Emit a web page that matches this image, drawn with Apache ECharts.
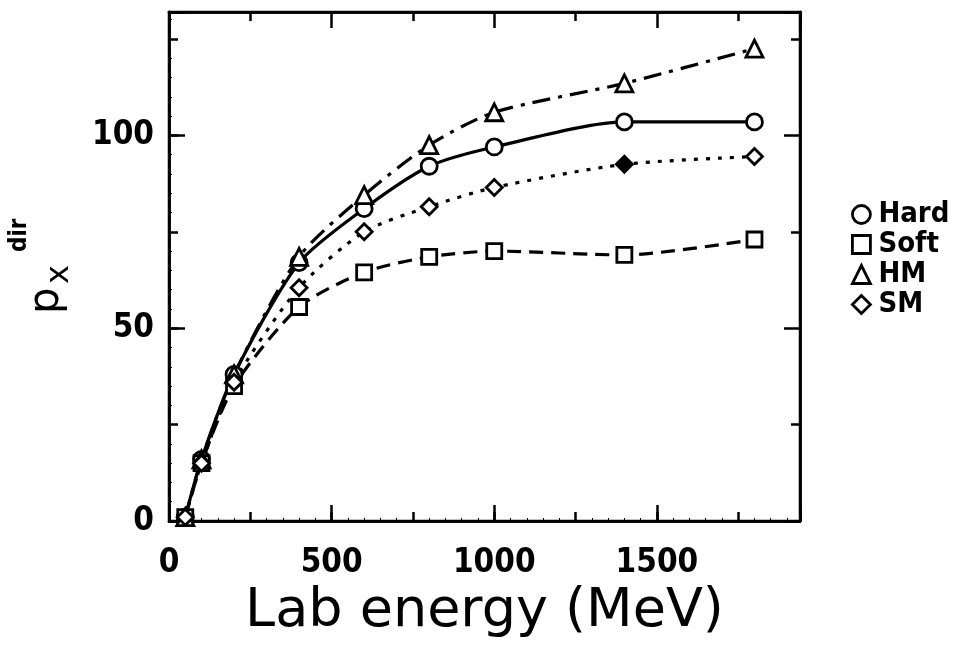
<!DOCTYPE html>
<html>
<head>
<meta charset="utf-8">
<script src="https://cdn.jsdelivr.net/npm/echarts@6/dist/echarts.min.js"></script>
<style>html,body{margin:0;padding:0;background:#fff;}#c{width:974px;height:651px;}</style>
</head>
<body>
<div id="c"></div>
<script>
// ---- data ----
const energies = [50, 100, 200, 400, 600, 800, 1000, 1400, 1800];
const hardValues = [1, 16, 38, 67, 81, 92, 97, 103.5, 103.5];
const softValues = [1, 15, 35, 55.5, 64.5, 68.5, 70, 69, 73];
const hmValues   = [1, 16, 38, 68.5, 84.5, 97.5, 106, 113.5, 122.5];
const smValues   = [1, 15, 36, 60.5, 75, 81.5, 86.5, 92.5, 94.5];
const seriesNames = ['Hard', 'Soft', 'HM', 'SM'];
const xTickLabels = ['0', '500', '1000', '1500'];
const yTickLabels = ['0', '50', '100'];
const xAxisTitle = 'Lab energy (MeV)';

const FONT = '"Liberation Sans Narrow", "DejaVu Sans Condensed", "Liberation Sans", sans-serif';
const BLACK = '#000';

function pairs(vals) { return energies.map((x, i) => [x, vals[i]]); }

const markerStyle = { color: '#fff', borderColor: BLACK, borderWidth: 2.8 };

function makeSeries(name, vals, symbol, dash, size, filledIdx) {
  const data = pairs(vals).map((p, i) => (i === filledIdx
    ? { value: p, itemStyle: { color: BLACK } } : p));
  return {
    name, type: 'line', data, symbol, symbolSize: size,
    xAxisIndex: 0, yAxisIndex: 0,
    smooth: 0.25,
    itemStyle: markerStyle,
    lineStyle: { color: BLACK, width: 3.2, type: dash },
    emphasis: { disabled: true },
    animation: false
  };
}

const tickLine = { color: BLACK, width: 2.5 };
function xAx(position, interval, len, labels) {
  return {
    type: 'value', position, min: 0, max: 1940, interval,
    axisLine: { show: true, onZero: false, lineStyle: tickLine },
    axisTick: { show: true, inside: true, length: len, lineStyle: tickLine },
    minorTick: { show: labels, splitNumber: 5, length: 3, lineStyle: { color: BLACK, width: 1 } },
    splitLine: { show: false },
    axisLabel: labels ? {
      show: true, interval: 0, margin: 26, color: BLACK,
      fontFamily: FONT, fontWeight: 'bold', fontSize: 33,
      formatter: v => (xTickLabels.includes(String(v)) ? String(v) : '')
    } : { show: false }
  };
}
function yAx(position, interval, len, labels) {
  return {
    type: 'value', position, min: 0, max: 132, interval,
    axisLine: { show: true, onZero: false, lineStyle: tickLine },
    axisTick: { show: true, inside: true, length: len, lineStyle: tickLine },
    minorTick: { show: labels, splitNumber: 5, length: 3, lineStyle: { color: BLACK, width: 1 } },
    splitLine: { show: false },
    axisLabel: labels ? {
      show: true, interval: 0, margin: 15, color: BLACK,
      fontFamily: FONT, fontWeight: 'bold', fontSize: 33,
      formatter: v => (yTickLabels.includes(String(v)) ? String(v) : '')
    } : { show: false }
  };
}

const xMain = xAx('bottom', 250, 9, true);
xMain.name = xAxisTitle;
xMain.nameLocation = 'middle';
xMain.nameGap = 64;
xMain.nameTextStyle = { fontFamily: '"DejaVu Sans", sans-serif', fontSize: 54, color: BLACK };

const option = {
  backgroundColor: '#fff',
  animation: false,
  grid: { left: 169, right: 174, top: 12, bottom: 130, show: true, borderColor: BLACK, borderWidth: 2.5, backgroundColor: 'transparent' },
  xAxis: [xMain, xAx('bottom', 500, 16, false), xAx('top', 250, 9, false), xAx('top', 500, 16, false)],
  yAxis: [yAx('left', 25, 9, true), yAx('left', 50, 16, false), yAx('right', 25, 9, false), yAx('right', 50, 16, false)],
  legend: {
    orient: 'vertical', left: 846, top: 195,
    itemWidth: 18, itemHeight: 18, itemGap: 1,
    selectedMode: false,
    textStyle: { fontFamily: FONT, fontWeight: 'bold', fontSize: 29, color: BLACK, lineHeight: 26, padding: [0, 0, 0, 3] },
    data: [
      { name: seriesNames[0], icon: 'circle', itemStyle: markerStyle },
      { name: seriesNames[1], icon: 'rect', itemStyle: markerStyle },
      { name: seriesNames[2], icon: 'triangle', itemStyle: markerStyle },
      { name: seriesNames[3], icon: 'diamond', itemStyle: markerStyle }
    ]
  },
  series: [
    makeSeries(seriesNames[0], hardValues, 'circle', 'solid', 16, -1),
    makeSeries(seriesNames[1], softValues, 'rect', [14, 8], 15, -1),
    makeSeries(seriesNames[2], hmValues, 'triangle', [18, 8, 4, 8], 17, -1),
    makeSeries(seriesNames[3], smValues, 'diamond', [4, 8], 16, 7)
  ],
  graphic: [{
    type: 'group', x: 50, y: 314, rotation: Math.PI / 2,
    children: [
      { type: 'text', x: 0, y: 18, style: { text: 'p', fontFamily: '"DejaVu Sans", sans-serif', fontSize: 42, fill: BLACK, textAlign: 'left', textVerticalAlign: 'bottom' } },
      { type: 'text', x: 30, y: 26, style: { text: 'x', fontFamily: '"DejaVu Sans", sans-serif', fontSize: 32, fill: BLACK, textAlign: 'left', textVerticalAlign: 'bottom' } },
      { type: 'text', x: 62, y: -18, style: { text: 'dir', fontFamily: FONT, fontWeight: 'bold', fontSize: 24, fill: BLACK, textAlign: 'left', textVerticalAlign: 'bottom' } }
    ]
  }]
};

const chart = echarts.init(document.getElementById('c'), null, { renderer: 'canvas' });
chart.setOption(option);
</script>
</body>
</html>
